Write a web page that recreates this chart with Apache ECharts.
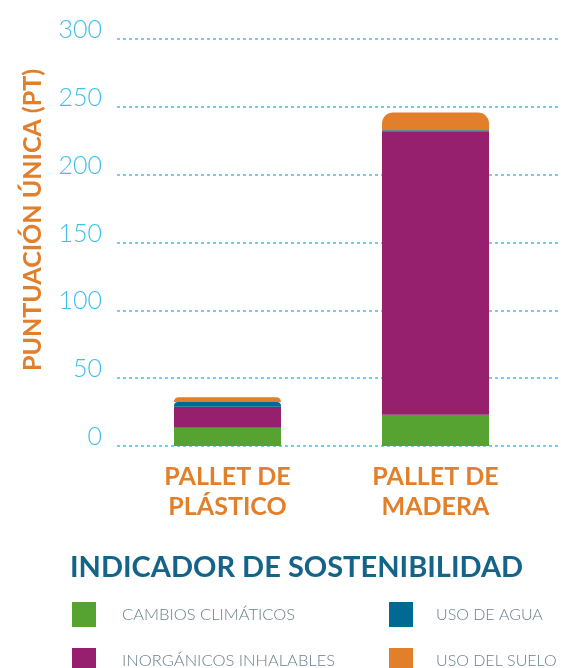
<!DOCTYPE html>
<html>
<head>
<meta charset="utf-8">
<script src="https://cdn.jsdelivr.net/npm/echarts@6/dist/echarts.min.js"></script>
<style>
  html, body { margin: 0; padding: 0; background: #fff; }
  #main { width: 561px; height: 668px; }
</style>
</head>
<body>
<div id="main"></div>
<script>
  // datos
  var categories = ['PALLET DE\nPLÁSTICO', 'PALLET DE\nMADERA'];
  var cambiosClimaticos = [13.5, 23];
  var inorganicos = [15.5, 209];
  var usoAgua = [3.5, 0.8];
  var usoSuelo = [3.5, 13];
  var yTicks = [0, 50, 100, 150, 200, 250, 300];
  var legendNames = ['CAMBIOS CLIMÁTICOS', 'INORGÁNICOS INHALABLES', 'USO DE AGUA', 'USO DEL SUELO'];

  var orange = '#E17F2B';
  var purple = '#96206E';
  var green = '#56A332';
  var blue = '#006A95';
  var font = 'Lato, "Open Sans", sans-serif';

  var myChart = echarts.init(document.getElementById('main'));

  // una leyenda por elemento, en dos columnas
  var legendPos = [[72, 602], [72, 648], [389, 602], [389, 648]];
  var legends = legendNames.map(function (name, i) {
    return {
      data: [name],
      left: legendPos[i][0], top: legendPos[i][1],
      itemWidth: 24, itemHeight: 25, icon: 'rect',
      selectedMode: false, padding: 0,
      textStyle: {
        color: '#6A808C', fontSize: i < 2 ? 16.5 : 16, fontWeight: 300, fontFamily: font,
        padding: [0, 0, 0, i < 2 ? 21 : 18]
      }
    };
  });

  var option = {
    animation: false,
    title: {
      text: 'INDICADOR DE SOSTENIBILIDAD',
      left: 70,
      top: 553,
      padding: 0,
      textStyle: { color: '#136488', fontSize: 29, fontWeight: 'bold', fontFamily: font }
    },
    legend: legends,
    graphic: [
      {
        type: 'text',
        x: 33, y: 220,
        rotation: Math.PI / 2,
        style: {
          text: 'PUNTUACIÓN ÚNICA (PT)',
          fill: orange,
          font: 'bold 25px ' + font,
          align: 'center',
          verticalAlign: 'middle'
        }
      }
    ],
    grid: [
      { left: 117, right: 0, top: 39, bottom: 222 },
      { left: 123.5, right: 21.5, top: 39, bottom: 222 }
    ],
    xAxis: [
      { type: 'value', gridIndex: 0, min: 0, max: 1, show: false },
      {
        type: 'category', gridIndex: 1, data: categories,
        axisLine: { show: false }, axisTick: { show: false },
        axisLabel: {
          color: orange, fontSize: 25, fontWeight: 'bold', fontFamily: font,
          lineHeight: 30, margin: 16
        }
      }
    ],
    yAxis: [
      {
        type: 'value', gridIndex: 0, min: yTicks[0], max: yTicks[yTicks.length - 1], interval: 50,
        axisLine: { show: false }, axisTick: { show: false },
        axisLabel: {
          color: '#3FC0EB', fontSize: 25, fontWeight: 300, fontFamily: font,
          margin: 15, verticalAlign: 'bottom', lineHeight: 18
        },
        splitLine: { lineStyle: { color: '#3FC0EB', width: 1.5, type: [3, 3] } }
      },
      { type: 'value', gridIndex: 1, min: 0, max: 300, show: false }
    ],
    series: [
      {
        name: 'CAMBIOS CLIMÁTICOS', type: 'bar', stack: 'total',
        xAxisIndex: 1, yAxisIndex: 1, barWidth: 107,
        itemStyle: { color: green }, data: cambiosClimaticos
      },
      {
        name: 'INORGÁNICOS INHALABLES', type: 'bar', stack: 'total',
        xAxisIndex: 1, yAxisIndex: 1, barWidth: 107,
        itemStyle: { color: purple }, data: inorganicos
      },
      {
        name: 'USO DE AGUA', type: 'bar', stack: 'total',
        xAxisIndex: 1, yAxisIndex: 1, barWidth: 107,
        itemStyle: { color: blue },
        data: usoAgua.map(function (v, i) {
          return i === 0 ? { value: v, itemStyle: { borderRadius: [4, 4, 0, 0] } } : v;
        })
      },
      {
        name: 'USO DEL SUELO', type: 'bar', stack: 'total',
        xAxisIndex: 1, yAxisIndex: 1, barWidth: 107,
        itemStyle: { color: orange },
        data: usoSuelo.map(function (v, i) {
          return { value: v, itemStyle: { borderRadius: i === 0 ? [6, 6, 0, 0] : [11, 11, 0, 0] } };
        })
      }
    ]
  };

  myChart.setOption(option);
</script>
</body>
</html>
